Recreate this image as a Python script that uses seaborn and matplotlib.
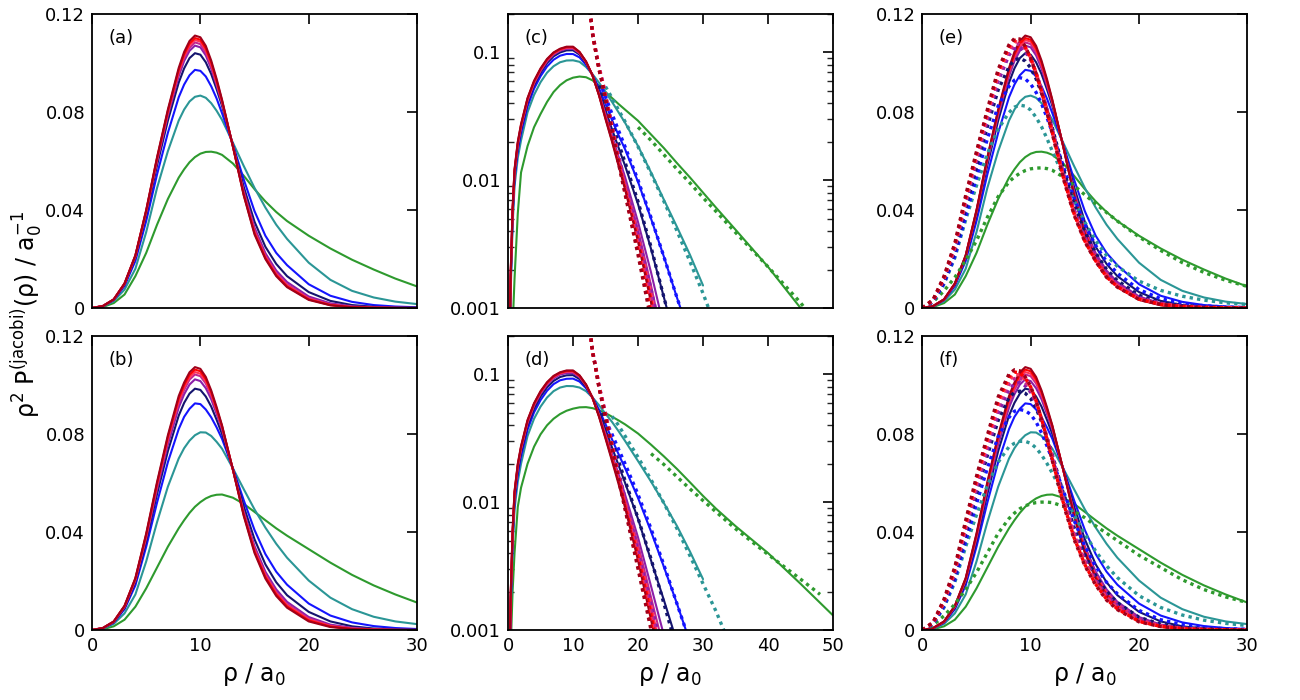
import numpy as np
import pandas as pd
import matplotlib
matplotlib.use('Agg')
import matplotlib.pyplot as plt
import seaborn as sns
from matplotlib.ticker import FixedLocator, LogLocator, NullFormatter

nan = np.nan

# curve order (drawn bottom to top)
NAMES = ['green', 'teal', 'blue', 'navy', 'purple', 'magenta', 'pinkred', 'red', 'darkred']
COLORS = {'green': '#2e9a2e', 'teal': '#2b9696', 'blue': '#1414ff', 'navy': '#14146e',
          'purple': '#8b1fa8', 'magenta': '#c4268f', 'pinkred': '#ff3355',
          'red': '#ff0000', 'darkred': '#a0001a'}

# grids (rho / a0)
RHO_LIN = [0, 1, 2, 3, 4, 5, 6, 7, 8, 8.5, 9, 9.5, 10, 10.5, 11, 11.5, 12, 13, 14, 15, 16, 17, 18,
           20, 22, 24, 26, 28, 30]
RHO_LOG = [0.2, 0.4, 0.7, 1, 1.5, 2, 3, 4, 5, 6, 7, 8, 9, 10, 11, 12, 13, 14, 15, 16, 17, 18,
           20, 22, 24, 26, 28, 30, 32, 35, 40, 45, 50]
RHO_TAIL = [12.5, 13, 13.5, 14, 14.5, 15, 16, 17, 18, 20, 22, 24, 26, 28, 30, 32, 35, 40, 45, 48]

# ---- panel (a) / (e) solid, linear
a_green = [0, .0004, .0020, .0055, .0130, .0225, .0340, .0445, .0532, .0566, .0595, .0616, .0630, .0637, .0638, .0634, .0625, .0590, .0540, .0485, .0435, .0392, .0355, .0295, .0243, .0197, .0157, .0120, .0088]
a_teal = [0, .0006, .0028, .0075, .0160, .0310, .0490, .0640, .0765, .0810, .0843, .0862, .0867, .0858, .0836, .0805, .0768, .0675, .0580, .0490, .0410, .0340, .0282, .0185, .0115, .0070, .0043, .0026, .0016]
a_blue = [0, .0007, .0032, .0090, .0192, .0355, .0545, .0715, .0860, .0912, .0950, .0972, .0968, .0945, .0905, .0855, .0795, .0668, .0525, .0395, .0295, .0225, .0175, .0097, .0050, .0025, .0012, .0006, .0003]
a_navy = [0, .0008, .0034, .0096, .0205, .0380, .0582, .0765, .0920, .0978, .1020, .1040, .1034, .1003, .0955, .0893, .0825, .0665, .0495, .0352, .0250, .0180, .0130, .0065, .0029, .0012, .0005, .0002, .0001]
a_purple = [0, .0008, .0034, .0098, .0210, .0390, .0598, .0786, .0946, .1008, .1050, .1071, .1064, .1031, .0977, .0908, .0836, .0662, .0478, .0328, .0224, .0153, .0106, .0047, .0019, .0007, .0003, .0001, 0]
a_magenta = [0, .0008, .0035, .0099, .0212, .0394, .0604, .0794, .0958, .1020, .1062, .1084, .1077, .1043, .0987, .0916, .0840, .0661, .0470, .0318, .0214, .0144, .0097, .0041, .0015, .0005, .0002, .00005, 0]
a_pinkred = [0, .0008, .0035, .0099, .0213, .0396, .0608, .0800, .0965, .1028, .1072, .1094, .1087, .1052, .0995, .0922, .0843, .0660, .0466, .0310, .0208, .0138, .0092, .0037, .0013, .0004, .0001, .00003, 0]
a_red = [0, .0008, .0035, .0100, .0214, .0398, .0612, .0805, .0972, .1036, .1080, .1102, .1095, .1060, .1002, .0928, .0846, .0660, .0462, .0305, .0204, .0134, .0088, .0035, .0012, .0003, .0001, .00002, 0]
a_darkred = [0, .0008, .0035, .0100, .0215, .0400, .0615, .0810, .0980, .1045, .1090, .1112, .1105, .1070, .1010, .0935, .0850, .0660, .0460, .0300, .0200, .0130, .0085, .0033, .0011, .0003, .0001, .00002, 0]

# ---- panel (b) / (f) solid, linear
b_green = [0, .0003, .0015, .0042, .0095, .0170, .0255, .0340, .0415, .0448, .0478, .0503, .0522, .0537, .0547, .0552, .0553, .0540, .0515, .0482, .0448, .0415, .0385, .0330, .0275, .0225, .0182, .0145, .0112]
b_teal = [0, .0005, .0025, .0068, .0145, .0280, .0440, .0585, .0700, .0742, .0773, .0795, .0807, .0806, .0792, .0768, .0740, .0660, .0575, .0492, .0418, .0352, .0295, .0202, .0132, .0085, .0054, .0035, .0024]
b_blue = [0, .0007, .0030, .0085, .0182, .0340, .0520, .0685, .0820, .0870, .0903, .0925, .0922, .0900, .0868, .0827, .0780, .0660, .0530, .0408, .0310, .0238, .0185, .0108, .0059, .0031, .0016, .0008, .0004]
b_navy = [0, .0007, .0032, .0090, .0195, .0362, .0555, .0730, .0875, .0927, .0965, .0985, .0980, .0953, .0912, .0858, .0800, .0658, .0505, .0370, .0268, .0195, .0142, .0074, .0035, .0015, .0006, .0003, .0001]
b_purple = [0, .0008, .0033, .0094, .0202, .0375, .0575, .0757, .0908, .0962, .1002, .1023, .1016, .0987, .0942, .0882, .0818, .0655, .0485, .0342, .0238, .0166, .0115, .0053, .0022, .0009, .0003, .0001, 0]
b_magenta = [0, .0008, .0034, .0096, .0206, .0382, .0586, .0772, .0925, .0980, .1022, .1043, .1036, .1006, .0957, .0892, .0825, .0655, .0478, .0332, .0228, .0156, .0106, .0047, .0018, .0007, .0002, .0001, 0]
b_pinkred = [0, .0008, .0034, .0097, .0208, .0386, .0592, .0780, .0935, .0990, .1032, .1053, .1046, .1015, .0964, .0898, .0829, .0655, .0474, .0326, .0222, .0150, .0101, .0043, .0016, .0005, .0002, 0, 0]
b_red = [0, .0008, .0034, .0098, .0210, .0390, .0598, .0788, .0945, .1000, .1042, .1063, .1056, .1024, .0971, .0903, .0832, .0655, .0470, .0320, .0216, .0145, .0096, .0039, .0014, .0004, .0001, 0, 0]
b_darkred = [0, .0008, .0035, .0099, .0212, .0394, .0604, .0795, .0955, .1010, .1052, .1073, .1066, .1033, .0978, .0910, .0835, .0655, .0466, .0314, .0210, .0139, .0091, .0035, .0012, .0004, .0001, 0, 0]

# ---- panel (c) solid, log scale
c_green = [.00006, .00025, .0007, .0017, .0055, .0115, .0185, .0260, .0330, .0410, .0490, .0555, .0605, .0635, .0648, .0640, .0605, .0550, .0490, .0440, .0395, .0357, .0292, .0228, .0178, .0136, .0105, .0080, .0061, .0041, .0021, .0010, .0005]
c_teal = [.0003, .0013, .0044, .0090, .0150, .0205, .0340, .0465, .0585, .0695, .0780, .0838, .0865, .0868, .0845, .0770, .0675, .0580, .0490, .0410, .0340, .0282, .0185, .0115, .0070, .0043, .0026, .0015, nan, nan, nan, nan, nan]
c_blue = [.0003, .0015, .0051, .0103, .0170, .0233, .0378, .0520, .0652, .0777, .0877, .0943, .0973, .0972, .0915, .0800, .0668, .0525, .0395, .0295, .0225, .0175, .0097, .0050, .0025, .0012, .0006, .0003, nan, nan, nan, nan, nan]
c_navy = [.0004, .0016, .0054, .0110, .0181, .0248, .0402, .0552, .0692, .0826, .0932, .1000, .1038, .1040, .0962, .0825, .0665, .0495, .0352, .0250, .0180, .0130, .0065, .0029, .0012, .0005, .0002, .0001, nan, nan, nan, nan, nan]
c_purple = [.0004, .0017, .0056, .0114, .0188, .0258, .0417, .0570, .0714, .0852, .0960, .1030, .1068, .1070, .0985, .0838, .0662, .0478, .0328, .0224, .0153, .0106, .0047, .0019, .0007, .0003, .0001, nan, nan, nan, nan, nan, nan]
c_magenta = [.0004, .0017, .0057, .0116, .0191, .0263, .0424, .0579, .0725, .0864, .0973, .1042, .1081, .1083, .0993, .0842, .0661, .0470, .0318, .0214, .0144, .0097, .0041, .0015, .0005, .0002, nan, nan, nan, nan, nan, nan, nan]
c_pinkred = [.0004, .0018, .0058, .0118, .0194, .0267, .0430, .0586, .0734, .0874, .0984, .1053, .1092, .1094, .1000, .0845, .0660, .0466, .0310, .0208, .0138, .0092, .0037, .0013, .0004, .0001, nan, nan, nan, nan, nan, nan, nan]
c_red = [.0004, .0018, .0059, .0120, .0197, .0271, .0435, .0593, .0742, .0882, .0992, .1062, .1100, .1102, .1005, .0848, .0660, .0462, .0305, .0204, .0134, .0088, .0035, .0012, .0003, .0001, nan, nan, nan, nan, nan, nan, nan]
c_darkred = [.0004, .0018, .0060, .0122, .0200, .0275, .0440, .0600, .0750, .0890, .1000, .1070, .1110, .1110, .1010, .0850, .0660, .0460, .0300, .0200, .0130, .0085, .0033, .0011, .0003, .0001, nan, nan, nan, nan, nan, nan, nan]

# ---- panel (d) solid, log scale
d_green = [.0002, .0007, .0020, .0040, .0092, .0130, .0200, .0272, .0340, .0400, .0450, .0490, .0520, .0540, .0553, .0555, .0545, .0525, .0498, .0467, .0437, .0407, .0345, .0282, .0228, .0182, .0143, .0112, .0089, .0065, .0040, .0023, .0013]
d_teal = [.0003, .0013, .0043, .0088, .0145, .0200, .0330, .0450, .0560, .0660, .0740, .0790, .0812, .0810, .0790, .0740, .0660, .0575, .0492, .0425, .0360, .0302, .0210, .0145, .0098, .0065, .0041, .0025, nan, nan, nan, nan, nan]
d_blue = [.0003, .0015, .0050, .0100, .0165, .0228, .0370, .0505, .0630, .0745, .0840, .0900, .0925, .0928, .0880, .0780, .0660, .0530, .0408, .0310, .0238, .0185, .0108, .0059, .0031, .0016, .0008, .0004, nan, nan, nan, nan, nan]
d_navy = [.0004, .0016, .0053, .0108, .0178, .0245, .0396, .0540, .0672, .0792, .0890, .0955, .0985, .0988, .0920, .0800, .0658, .0505, .0370, .0268, .0195, .0142, .0074, .0035, .0017, .0008, .0003, .0001, nan, nan, nan, nan, nan]
d_purple = [.0004, .0017, .0056, .0114, .0188, .0258, .0416, .0567, .0705, .0830, .0932, .0998, .1025, .1025, .0950, .0818, .0655, .0485, .0342, .0238, .0166, .0115, .0053, .0022, .0009, .0003, .0001, nan, nan, nan, nan, nan, nan]
d_magenta = [.0004, .0017, .0057, .0116, .0191, .0263, .0424, .0577, .0718, .0845, .0948, .1013, .1045, .1045, .0965, .0825, .0655, .0478, .0332, .0228, .0156, .0106, .0047, .0018, .0007, .0002, .0001, nan, nan, nan, nan, nan, nan]
d_pinkred = [.0004, .0018, .0058, .0118, .0194, .0267, .0430, .0584, .0726, .0854, .0958, .1024, .1055, .1055, .0972, .0829, .0655, .0474, .0326, .0222, .0150, .0101, .0043, .0016, .0005, .0002, nan, nan, nan, nan, nan, nan, nan]
d_red = [.0004, .0018, .0059, .0120, .0197, .0271, .0435, .0590, .0733, .0862, .0966, .1032, .1065, .1065, .0978, .0832, .0655, .0470, .0320, .0216, .0145, .0096, .0039, .0014, .0004, .0001, nan, nan, nan, nan, nan, nan, nan]
d_darkred = [.0004, .0018, .0060, .0122, .0200, .0275, .0440, .0595, .0740, .0870, .0975, .1040, .1075, .1075, .0985, .0835, .0655, .0466, .0314, .0210, .0139, .0091, .0035, .0012, .0004, .0001, nan, nan, nan, nan, nan, nan, nan]

# ---- panel (c) dotted tails, log scale
cd_green = [nan, nan, nan, nan, nan, nan, nan, nan, nan, .0260, .0205, .0158, .0122, .0095, .0073, .0057, .0039, .0021, .0011, .0007]
cd_teal = [nan, nan, nan, nan, nan, .0540, .0440, .0355, .0288, .0183, .0113, .0068, .0040, .0023, .0013, .0007, nan, nan, nan, nan]
cd_blue = [nan, nan, nan, nan, .0520, .0450, .0330, .0245, .0183, .0100, .0051, .0025, .0012, .0006, nan, nan, nan, nan, nan, nan]
cd_navy = [nan, nan, nan, .0550, .0470, .0400, .0280, .0195, .0138, .0068, .0030, .0012, .0005, nan, nan, nan, nan, nan, nan, nan]
cd_purple = [.24, .143, .104, .077, .061, .047, .027, .0158, .0096, .0037, .0014, .0005, nan, nan, nan, nan, nan, nan, nan, nan]
cd_magenta = [.24, .142, .103, .076, .060, .046, .026, .0150, .0090, .0033, .0012, .0004, nan, nan, nan, nan, nan, nan, nan, nan]
cd_pinkred = [.24, .140, .102, .075, .059, .045, .0255, .0145, .0085, .0030, .0010, .0003, nan, nan, nan, nan, nan, nan, nan, nan]
cd_red = [.24, .140, .101, .074, .058, .044, .025, .0140, .0081, .0028, .0009, .0003, nan, nan, nan, nan, nan, nan, nan, nan]
cd_darkred = [.24, .140, .100, .073, .057, .043, .024, .0135, .0078, .0026, .0008, .0002, nan, nan, nan, nan, nan, nan, nan, nan]

# ---- panel (d) dotted tails, log scale
dd_green = [nan, nan, nan, nan, nan, nan, nan, nan, nan, nan, .0240, .0197, .0158, .0127, .0103, .0084, .0062, .0039, .0025, .0019]
dd_teal = [nan, nan, nan, nan, nan, nan, .0470, .0400, .0330, .0225, .0150, .0098, .0062, .0038, .0023, .0014, .0006, nan, nan, nan]
dd_blue = [nan, nan, nan, nan, nan, .0440, .0340, .0260, .0200, .0115, .0062, .0032, .0016, .0008, nan, nan, nan, nan, nan, nan]
dd_navy = [nan, nan, nan, nan, .0500, .0410, .0300, .0210, .0148, .0075, .0036, .0016, .0007, nan, nan, nan, nan, nan, nan, nan]
dd_purple = [.25, .153, .114, .082, .064, .050, .029, .0175, .0107, .0041, .0016, .0006, nan, nan, nan, nan, nan, nan, nan, nan]
dd_magenta = [.25, .152, .113, .081, .063, .049, .028, .0166, .0100, .0037, .0014, .0005, nan, nan, nan, nan, nan, nan, nan, nan]
dd_pinkred = [.25, .151, .112, .080, .062, .048, .0275, .0160, .0095, .0034, .0012, .0004, nan, nan, nan, nan, nan, nan, nan, nan]
dd_red = [.25, .150, .111, .079, .061, .047, .027, .0155, .0091, .0032, .0011, .0004, nan, nan, nan, nan, nan, nan, nan, nan]
dd_darkred = [.25, .150, .110, .078, .060, .046, .026, .0150, .0088, .0030, .0010, .0003, nan, nan, nan, nan, nan, nan, nan, nan]

# ---- panel (e) dotted, linear
ed_green = [0, .0025, .0070, .0125, .0195, .0275, .0370, .0455, .0515, .0535, .0550, .0561, .0568, .0571, .0572, .0569, .0562, .0535, .0500, .0462, .0425, .0390, .0355, .0290, .0235, .0185, .0145, .0113, .0088]
ed_teal = [0, .0026, .0098, .0205, .0360, .0500, .0630, .0730, .0798, .0820, .0828, .0824, .0808, .0778, .0740, .0692, .0640, .0540, .0440, .0350, .0275, .0215, .0170, .0110, .0072, .0048, .0032, .0021, .0014]
ed_blue = [0, .0026, .0100, .0212, .0375, .0535, .0690, .0825, .0905, .0930, .0940, .0935, .0914, .0880, .0834, .0778, .0715, .0580, .0450, .0340, .0255, .0190, .0142, .0075, .0038, .0019, .0009, .0004, .0002]
ed_navy = [0, .0028, .0110, .0230, .0405, .0575, .0740, .0890, .0985, .1012, .1020, .1008, .0980, .0935, .0878, .0810, .0735, .0570, .0425, .0310, .0225, .0158, .0112, .0052, .0024, .0011, .0005, .0002, .0001]
ed_purple = [0, .0030, .0116, .0241, .0424, .0600, .0766, .0925, .1032, .1058, .1063, .1046, .1012, .0958, .0892, .0813, .0730, .0553, .0404, .0290, .0208, .0142, .0099, .0043, .0019, .0008, .0003, .0001, 0]
ed_magenta = [0, .0031, .0120, .0248, .0435, .0614, .0782, .0944, .1048, .1074, .1078, .1057, .1019, .0961, .0891, .0810, .0725, .0546, .0396, .0282, .0200, .0134, .0093, .0040, .0017, .0007, .0003, .0001, 0]
ed_pinkred = [0, .0032, .0123, .0254, .0443, .0624, .0793, .0957, .1059, .1086, .1088, .1063, .1022, .0960, .0889, .0806, .0720, .0540, .0390, .0277, .0195, .0130, .0089, .0037, .0016, .0006, .0002, .0001, 0]
ed_red = [0, .0033, .0126, .0259, .0450, .0632, .0802, .0966, .1067, .1093, .1093, .1065, .1020, .0957, .0884, .0802, .0715, .0535, .0385, .0273, .0192, .0127, .0087, .0036, .0015, .0006, .0002, .0001, 0]
ed_darkred = [0, .0035, .0130, .0265, .0460, .0640, .0810, .0975, .1075, .1100, .1098, .1068, .1020, .0955, .0880, .0797, .0710, .0530, .0380, .0270, .0190, .0125, .0085, .0035, .0015, .0006, .0002, .0001, 0]

# ---- panel (f) dotted, linear
fd_green = [0, .0020, .0058, .0105, .0165, .0235, .0315, .0395, .0455, .0477, .0495, .0507, .0515, .0520, .0522, .0522, .0520, .0505, .0485, .0458, .0425, .0395, .0365, .0305, .0255, .0205, .0165, .0135, .0112]
fd_teal = [0, .0024, .0092, .0195, .0340, .0470, .0590, .0685, .0748, .0762, .0770, .0770, .0762, .0743, .0715, .0680, .0640, .0555, .0470, .0392, .0322, .0262, .0214, .0140, .0092, .0061, .0040, .0027, .0018]
fd_blue = [0, .0025, .0096, .0205, .0362, .0515, .0660, .0790, .0868, .0893, .0900, .0895, .0880, .0849, .0805, .0752, .0695, .0570, .0448, .0342, .0260, .0195, .0148, .0080, .0042, .0022, .0011, .0005, .0003]
fd_navy = [0, .0027, .0106, .0222, .0390, .0555, .0712, .0855, .0948, .0970, .0975, .0966, .0945, .0905, .0850, .0785, .0715, .0560, .0420, .0308, .0222, .0158, .0112, .0052, .0024, .0011, .0005, .0002, .0001]
fd_purple = [0, .0028, .0110, .0230, .0405, .0575, .0735, .0885, .0982, .1005, .1010, .0996, .0970, .0923, .0860, .0787, .0710, .0545, .0400, .0288, .0205, .0142, .0099, .0043, .0019, .0008, .0003, .0001, 0]
fd_magenta = [0, .0029, .0114, .0238, .0418, .0592, .0755, .0908, .1004, .1026, .1030, .1013, .0982, .0931, .0862, .0785, .0705, .0535, .0390, .0278, .0197, .0135, .0093, .0040, .0017, .0007, .0003, .0001, 0]
fd_pinkred = [0, .0030, .0118, .0245, .0428, .0605, .0770, .0925, .1021, .1042, .1042, .1022, .0988, .0934, .0862, .0783, .0700, .0528, .0383, .0272, .0192, .0130, .0089, .0037, .0016, .0006, .0002, .0001, 0]
fd_red = [0, .0031, .0121, .0250, .0436, .0615, .0782, .0938, .1034, .1053, .1050, .1028, .0992, .0935, .0862, .0780, .0695, .0522, .0377, .0267, .0187, .0126, .0086, .0035, .0015, .0006, .0002, .0001, 0]
fd_darkred = [0, .0032, .0126, .0258, .0448, .0628, .0795, .0952, .1045, .1062, .1058, .1033, .0995, .0935, .0860, .0777, .0690, .0515, .0370, .0262, .0183, .0122, .0083, .0033, .0014, .0005, .0002, .0001, 0]

A_SOLID = [a_green, a_teal, a_blue, a_navy, a_purple, a_magenta, a_pinkred, a_red, a_darkred]
B_SOLID = [b_green, b_teal, b_blue, b_navy, b_purple, b_magenta, b_pinkred, b_red, b_darkred]
C_SOLID = [c_green, c_teal, c_blue, c_navy, c_purple, c_magenta, c_pinkred, c_red, c_darkred]
D_SOLID = [d_green, d_teal, d_blue, d_navy, d_purple, d_magenta, d_pinkred, d_red, d_darkred]
C_DOT = [cd_green, cd_teal, cd_blue, cd_navy, cd_purple, cd_magenta, cd_pinkred, cd_red, cd_darkred]
D_DOT = [dd_green, dd_teal, dd_blue, dd_navy, dd_purple, dd_magenta, dd_pinkred, dd_red, dd_darkred]
E_DOT = [ed_green, ed_teal, ed_blue, ed_navy, ed_purple, ed_magenta, ed_pinkred, ed_red, ed_darkred]
F_DOT = [fd_green, fd_teal, fd_blue, fd_navy, fd_purple, fd_magenta, fd_pinkred, fd_red, fd_darkred]

sns.set_theme(style='white')
plt.rcParams['font.family'] = ['DejaVu Sans']
plt.rcParams['mathtext.default'] = 'regular'

DOTTED = (0, (1, 1.25))


def draw(ax, x, curves, dotted=False):
    for name, y in zip(NAMES, curves):
        df = pd.DataFrame({'rho': x, 'val': y}).dropna()
        if dotted:
            sns.lineplot(data=df, x='rho', y='val', color=COLORS[name], lw=2.4, ls=DOTTED,
                         estimator=None, sort=False, ax=ax, legend=False)
        else:
            sns.lineplot(data=df, x='rho', y='val', color=COLORS[name], lw=1.5,
                         estimator=None, sort=False, ax=ax, legend=False)


def style(ax, log, xmax, label, bottom):
    for s in ax.spines.values():
        s.set_color('black')
        s.set_linewidth(1.3)
    ax.set_xlim(0, xmax)
    ax.xaxis.set_major_locator(FixedLocator(list(range(0, xmax + 1, 10))))
    if log:
        ax.set_yscale('log')
        ax.set_ylim(0.001, 0.2)
        ax.yaxis.set_major_locator(FixedLocator([0.001, 0.01, 0.1]))
        ax.set_yticklabels(['0.001', '0.01', '0.1'])
        ax.yaxis.set_minor_locator(LogLocator(base=10, subs=np.arange(2, 10)))
        ax.yaxis.set_minor_formatter(NullFormatter())
    else:
        ax.set_ylim(0, 0.12)
        ax.yaxis.set_major_locator(FixedLocator([0, 0.04, 0.08, 0.12]))
        ax.set_yticklabels(['0', '0.04', '0.08', '0.12'])
    ax.tick_params(which='major', direction='in', top=True, right=True, length=7, width=1.2,
                   labelsize=13, colors='black', pad=5, labelbottom=bottom)
    ax.tick_params(which='minor', direction='in', left=True, right=True, length=4, width=1.0)
    ax.set_ylabel('')
    if bottom:
        ax.set_xlabel('ρ / a$_0$', fontsize=17, labelpad=4, color='black')
    else:
        ax.set_xlabel('')
    ax.text(0.05, 0.92, label, transform=ax.transAxes, fontsize=13, ha='left', va='center',
            color='black')


fig = plt.figure(figsize=(13, 7), dpi=100)
lefts = [0.0708, 0.3908, 0.7095]
bottoms = [0.56, 0.10]
W, H = 0.25, 0.42

# top row
ax = fig.add_axes([lefts[0], bottoms[0], W, H])
draw(ax, RHO_LIN, A_SOLID)
style(ax, False, 30, '(a)', False)

ax = fig.add_axes([lefts[1], bottoms[0], W, H])
ax.set_yscale('log')
draw(ax, RHO_LOG, C_SOLID)
draw(ax, RHO_TAIL, C_DOT, dotted=True)
style(ax, True, 50, '(c)', False)

ax = fig.add_axes([lefts[2], bottoms[0], W, H])
draw(ax, RHO_LIN, A_SOLID)
draw(ax, RHO_LIN, E_DOT, dotted=True)
style(ax, False, 30, '(e)', False)

# bottom row
ax = fig.add_axes([lefts[0], bottoms[1], W, H])
draw(ax, RHO_LIN, B_SOLID)
style(ax, False, 30, '(b)', True)

ax = fig.add_axes([lefts[1], bottoms[1], W, H])
ax.set_yscale('log')
draw(ax, RHO_LOG, D_SOLID)
draw(ax, RHO_TAIL, D_DOT, dotted=True)
style(ax, True, 50, '(d)', True)

ax = fig.add_axes([lefts[2], bottoms[1], W, H])
draw(ax, RHO_LIN, B_SOLID)
draw(ax, RHO_LIN, F_DOT, dotted=True)
style(ax, False, 30, '(f)', True)

fig.text(0.021, 0.55, 'ρ$^2$ P$^{(jacobi)}$(ρ) / a$_0^{-1}$', rotation=90,
         fontsize=17, ha='center', va='center', color='black')

fig.savefig('out.png', dpi=100)
